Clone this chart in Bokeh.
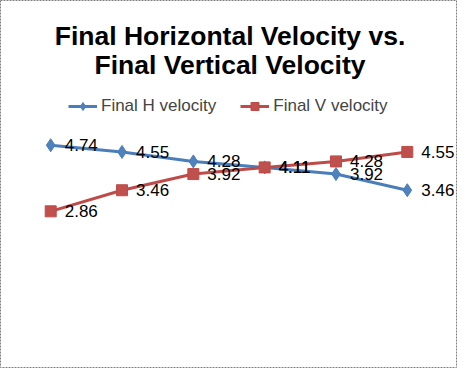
from bokeh.plotting import figure
from bokeh.models import Range1d, Label, Legend, LegendItem, ColumnDataSource
from bokeh.embed import file_html
from bokeh.resources import INLINE
from bokeh.core.properties import value

trials = [1, 2, 3, 4, 5, 6]
final_h = [4.74, 4.55, 4.28, 4.11, 3.92, 3.46]
final_v = [2.86, 3.46, 3.92, 4.11, 4.28, 4.55]
title_lines = ["Final Horizontal Velocity vs.", "Final Vertical Velocity"]
series_names = ["Final H velocity", "Final V velocity"]

W, H = 457, 368
FONT = "Liberation Sans"
BLUE_LINE, BLUE_FILL = "#4A7EBB", "#4F81BD"
RED_LINE, RED_FILL = "#BE4B48", "#C0504D"

p = figure(width=W, height=H, output_backend="svg", toolbar_location=None,
           x_range=Range1d(0.296, 6.704), y_range=Range1d(-1.61, 8.857),
           x_axis_location=None, y_axis_location=None, min_border=0)
p.xgrid.visible = False
p.ygrid.visible = False
p.background_fill_color = "white"
p.border_fill_color = "white"
p.outline_line_color = "#808080"
p.outline_line_dash = "2 1"
p.outline_line_width = 1

src = ColumnDataSource(dict(x=trials, h=final_h, v=final_v,
                            hl=[f"{v:.2f}" for v in final_h],
                            vl=[f"{v:.2f}" for v in final_v]))

lh = p.line("x", "h", source=src, line_color=BLUE_LINE, line_width=3)
mh = p.scatter("x", "h", source=src, marker="diamond", size=13,
               fill_color=BLUE_FILL, line_color=BLUE_LINE)
lv = p.line("x", "v", source=src, line_color=RED_LINE, line_width=3)
mv = p.scatter("x", "v", source=src, marker="square", size=11,
               fill_color=RED_FILL, line_color=RED_LINE)

for col in ("hl", "vl"):
    p.text("x", "h" if col == "hl" else "v", text=col, source=src,
           x_offset=14, text_align="left", text_baseline="middle",
           text_font=value(FONT), text_font_size="17px", text_color="black")

legend = Legend(items=[LegendItem(label=series_names[0], renderers=[lh, mh]),
                       LegendItem(label=series_names[1], renderers=[lv, mv])],
                location=(68, 252), orientation="horizontal",
                glyph_width=29, glyph_height=20, label_height=20,
                label_standoff=4, spacing=24, padding=0, margin=0,
                border_line_color=None, background_fill_alpha=0,
                label_text_font=FONT, label_text_font_size="17px")
p.add_layout(legend, "center")

for txt, yb in zip(title_lines, [332.5, 303.8]):
    p.add_layout(Label(x=229.5, y=yb, x_units="screen", y_units="screen",
                       text=txt, text_align="center", text_baseline="alphabetic",
                       text_font=FONT, text_font_style="bold",
                       text_font_size="26.5px", text_color="black"))

open("out.html", "w").write(file_html(p, INLINE))
